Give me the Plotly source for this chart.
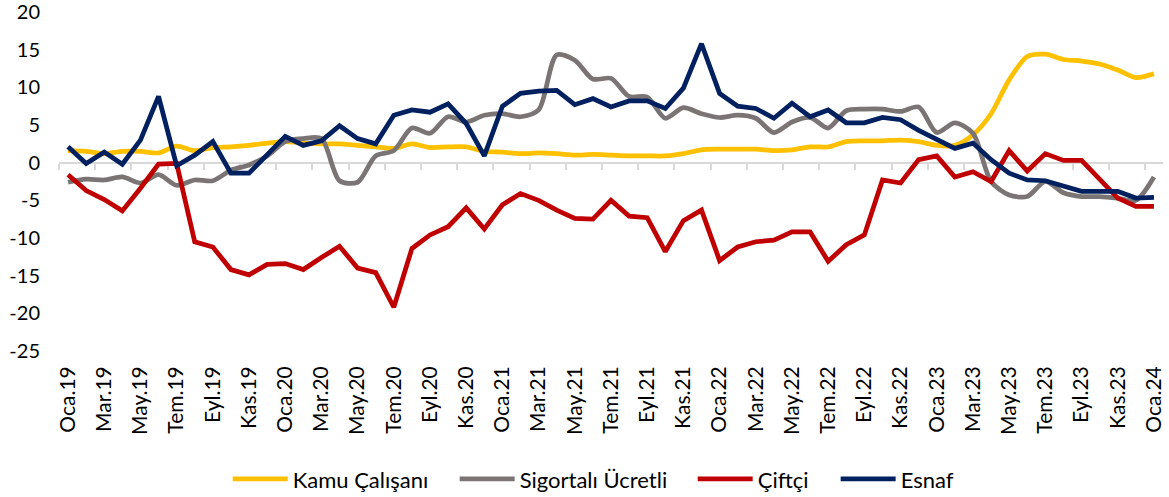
import plotly.graph_objects as go

months_tr = ["Oca", "Şub", "Mar", "Nis", "May", "Haz", "Tem", "Ağu", "Eyl", "Eki", "Kas", "Ara"]
categories = [f"{months_tr[m]}.{y}" for y in range(19, 25) for m in range(12)][:61]

kamu = [1.6, 1.5, 1.2, 1.5, 1.5, 1.3, 2.2, 1.6, 2.0, 2.1, 2.3, 2.6, 2.8, 2.6, 2.5, 2.5,
        2.3, 2.1, 1.9, 2.5, 2.0, 2.1, 2.1, 1.5, 1.4, 1.2, 1.3, 1.2, 1.0, 1.1, 1.0, 0.9,
        0.9, 0.9, 1.2, 1.7, 1.8, 1.8, 1.8, 1.6, 1.7, 2.1, 2.1, 2.8, 2.9, 2.9, 3.0, 2.8,
        2.3, 2.3, 3.7, 6.5, 11.0, 14.1, 14.4, 13.7, 13.5, 13.1, 12.3, 11.3, 11.8]
sigortali = [-2.6, -2.2, -2.3, -1.9, -2.7, -1.6, -3.0, -2.3, -2.4, -1.0, -0.3, 0.9, 2.8, 3.2,
             3.2, -2.4, -2.6, 0.9, 1.6, 4.6, 3.9, 6.1, 5.4, 6.3, 6.5, 6.1, 7.0, 14.3, 13.6,
             11.1, 11.2, 8.8, 8.7, 5.9, 7.3, 6.5, 6.0, 6.3, 5.9, 4.0, 5.4, 6.0, 4.6, 6.9,
             7.1, 7.1, 6.8, 7.4, 4.0, 5.3, 3.9, -2.5, -4.3, -4.5, -2.5, -4.0, -4.5, -4.5,
             -4.7, -5.0, -1.9]
ciftci = [-1.6, -3.7, -4.9, -6.4, -3.4, -0.2, -0.1, -10.5, -11.2, -14.2, -14.9, -13.5, -13.4,
          -14.2, -12.6, -11.1, -14.0, -14.6, -19.2, -11.4, -9.6, -8.5, -6.0, -8.8, -5.6, -4.1,
          -5.0, -6.3, -7.4, -7.5, -5.0, -7.1, -7.3, -11.8, -7.7, -6.3, -13.0, -11.2, -10.5,
          -10.3, -9.2, -9.2, -13.1, -10.9, -9.6, -2.3, -2.7, 0.4, 0.9, -1.9, -1.2, -2.5, 1.6,
          -1.1, 1.2, 0.3, 0.3, -2.1, -4.7, -5.8, -5.8]
esnaf = [2.1, -0.1, 1.4, -0.2, 3.0, 8.8, -0.4, 1.0, 2.8, -1.4, -1.4, 1.0, 3.5, 2.3, 2.9, 4.9,
         3.2, 2.5, 6.3, 7.0, 6.7, 7.8, 5.2, 0.9, 7.5, 9.2, 9.5, 9.6, 7.7, 8.5, 7.4, 8.2, 8.2,
         7.2, 9.9, 15.8, 9.2, 7.5, 7.2, 5.9, 7.9, 6.1, 7.0, 5.3, 5.3, 6.0, 5.7, 4.3, 3.1, 1.9,
         2.6, 0.4, -1.4, -2.3, -2.4, -3.1, -3.8, -3.8, -3.8, -4.7, -4.6]

tick_labels = categories[::2]
y_ticks = [20, 15, 10, 5, 0, -5, -10, -15, -20, -25]

series = [
    ("Kamu Çalışanı", kamu, "#FFC000", "spline", "legend"),
    ("Sigortalı Ücretli", sigortali, "#7A7574", "spline", "legend2"),
    ("Çiftçi", ciftci, "#C00000", "linear", "legend3"),
    ("Esnaf", esnaf, "#002060", "linear", "legend4"),
]
legend_x = [0.1528, 0.3584, 0.5740, 0.7035]

FONT = "Lato"
fig = go.Figure()
for name, vals, color, shape, leg in series:
    fig.add_trace(go.Scatter(
        x=categories, y=vals, name=name, mode="lines", legend=leg,
        line=dict(color=color, width=4.75, shape=shape, smoothing=0.8),
    ))

n = len(categories)
boundary_ticks = [k - 0.5 for k in range(0, n, 2)]

legend_common = dict(orientation="h", xanchor="left", y=-0.378, yanchor="middle",
                     font=dict(family=FONT, size=22, color="#000000"),
                     itemwidth=55, bgcolor="rgba(0,0,0,0)")

fig.update_layout(
    width=1169, height=497,
    margin=dict(l=59, r=6, t=12, b=146, autoexpand=False),
    plot_bgcolor="white", paper_bgcolor="white",
    font=dict(family=FONT, size=20, color="#000000"),
    showlegend=True,
    legend=dict(x=legend_x[0], **legend_common),
    legend2=dict(x=legend_x[1], **legend_common),
    legend3=dict(x=legend_x[2], **legend_common),
    legend4=dict(x=legend_x[3], **legend_common),
    xaxis=dict(
        type="category", categoryorder="array", categoryarray=categories,
        range=[-0.5, n - 0.5], automargin=False, ticklabeloverflow="allow",
        tickmode="array", tickvals=tick_labels, ticktext=tick_labels,
        tickangle=-90, showgrid=False, zeroline=False, showline=False, ticks="",
        ticklabelstandoff=10, tickfont=dict(family=FONT, size=21),
    ),
    xaxis2=dict(
        overlaying="x", anchor="free", position=25.01 / 45.02, side="bottom",
        range=[-0.5, n - 0.5], tickmode="array", tickvals=boundary_ticks,
        ticks="outside", ticklen=6, tickwidth=2, tickcolor="#D9D9D9",
        showline=True, linecolor="#D9D9D9", linewidth=2, automargin=False,
        showticklabels=False, showgrid=False, zeroline=False, layer="below traces",
    ),
    yaxis=dict(
        range=[-25.01, 20.01], tickmode="array", tickvals=y_ticks, automargin=False,
        ticktext=[str(v) for v in y_ticks], ticklabeloverflow="allow",
        showgrid=False, zeroline=False, showline=False, ticks="",
        ticklabelstandoff=18, tickfont=dict(family=FONT, size=20),
    ),
)
fig.add_trace(go.Scatter(x=[-0.5, n - 0.5], y=[0, 0], xaxis="x2", mode="lines",
                         line=dict(width=0), hoverinfo="skip", showlegend=False))

fig.write_html("out.html", config={"displayModeBar": False},
               post_script="document.body.style.margin='0';")
